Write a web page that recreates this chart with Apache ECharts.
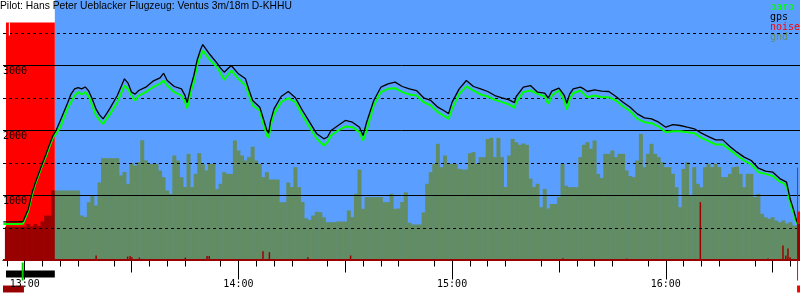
<!DOCTYPE html>
<html><head><meta charset="utf-8">
<script src="https://cdn.jsdelivr.net/npm/echarts@6/dist/echarts.min.js"></script>
<style>html,body{margin:0;padding:0;background:#fff}#c{width:800px;height:300px}</style>
</head><body><div id="c"></div>
<script>
// time values are minutes after 12:00
const titleText = 'Pilot: Hans Peter Ueblacker Flugzeug: Ventus 3m/18m D-KHHU';
const legendNames = ['baro', 'gps', 'noise', 'gnd'];
const hourTicks = [60, 120, 180, 240];
const hourLabels = ['13:00', '14:00', '15:00', '16:00'];
const halfHourTicks = [90, 150, 210, 270];
const fiveMinTicks = [55, 65, 70, 75, 85, 95, 100, 105, 115, 125, 130, 135, 145, 155, 160, 165,
  175, 185, 190, 195, 205, 215, 220, 225, 235, 245, 250, 255, 265, 275];
const yLabelValues = [1000, 2000, 3000];
const yLabels = ['1000', '2000', '3000'];
const solidLevels = [1000, 2000, 3000];
const dashedLevels = [500, 1500, 2500, 3500];

const baro = [
  [54,562],[58,562],[59.5,565],
  [61,760],[62,1000],[63,1180],[64,1330],[65,1480],[66,1610],[67,1760],[68,1897],[68.8,1950],
  [70,2051],[72,2333],[74,2538],[75,2590],[76,2554],[77,2590],[78,2523],[79,2380],[80,2231],[81,2160],[82,2102],[83,2180],[84,2256],[86,2436],[88,2692],[89,2640],[90,2538],[91,2460],[92,2538],[94,2590],[96,2666],[98,2718],[99,2770],[100,2692],[102,2590],[104,2538],[105,2440],[105.6,2340],[106.6,2590],[107.5,2743],[108.4,3000],[109.4,3150],[110,3230],
  [112,3087],[114,2974],[115,2880],[116,2779],[117,2850],[118,2923],[120,2795],[122,2692],[123,2540],[124,2385],[126,2308],[127,2100],[128,1923],[128.5,1890],[129,2060],[130,2256],[132,2436],[134,2497],[136,2436],[138,2231],[140,2051],[142,1872],[144,1769],[145,1820],[146,1923],[148,2000],[150,2061],[152,2051],[154,1974],[155,1846],[156,2000],[158,2385],[160,2590],[162,2641],[164,2651],[166,2590],
  [168,2554],[170,2538],[172,2436],[174,2385],[176,2282],[178,2215],[179,2179],[180,2333],[182,2564],[184,2677],[186,2615],[188,2554],[190,2523],[192,2472],[194,2436],[196,2400],[197.5,2348],[198,2436],[200,2590],[202,2615],[204,2564],[206,2523],[207,2410],[208,2538],[210,2615],[211.5,2450],[212.2,2318],[213,2480],[214,2574],[216,2615],[217,2560],[218,2513],[220,2538],[222,2513],
  [224,2513],[226,2462],[228,2369],[230,2297],[232,2179],[234,2128],[236,2113],[238,2061],[240,1974],[242,1990],[244,1990],[246,1974],[248,1959],[250,1887],[252,1836],[254,1785],[256,1785],[258,1702],[260,1615],[262,1538],[264,1477],[266,1359],[268,1333],[270,1300],[272,1210],[273,1190],[274,1140],[274.4,1026],[274.9,877],[275.8,744],[276.6,590],[276.9,564]
];
const gps = [
  [54,595],[58,595],[59.5,600],
  [61,790],[62,1030],[63,1200],[64,1350],[65,1500],[66,1640],[67,1790],[68,1930],[68.8,2000],
  [70,2154],[72,2420],[73,2560],[74,2641],[75,2660],[76,2641],[77,2670],[78,2605],[79,2480],[80,2333],[81,2240],[82,2179],[83,2260],[84,2348],[86,2538],[88,2795],[89,2730],[90,2590],[91,2560],[92,2615],[94,2666],[96,2759],[98,2810],[99,2882],[100,2769],[102,2677],[104,2641],[105,2540],[105.6,2430],[106.6,2670],[107.5,2850],[108.4,3080],[109.4,3250],[110,3323],
  [112,3169],[114,3036],[115,2960],[116,2897],[117,2950],[118,3000],[120,2872],[122,2795],[123,2620],[124,2462],[126,2359],[127,2180],[128,2000],[128.5,1960],[129,2140],[130,2333],[132,2523],[134,2600],[136,2503],[138,2308],[140,2128],[142,1949],[144,1872],[145,1900],[146,2000],[148,2077],[150,2154],[152,2128],[154,2051],[155,1923],[156,2128],[158,2462],[160,2666],[162,2718],[164,2744],[166,2677],
  [168,2641],[170,2615],[172,2503],[174,2462],[176,2359],[178,2297],[179,2260],[180,2436],[182,2641],[184,2769],[186,2677],[188,2641],[190,2600],[192,2538],[194,2503],[196,2472],[197.5,2430],[198,2523],[200,2666],[202,2692],[204,2590],[206,2574],[207,2500],[208,2605],[210,2651],[211.5,2540],[212.2,2420],[213,2560],[214,2641],[216,2666],[217,2640],[218,2600],[220,2625],[222,2605],
  [224,2600],[226,2523],[228,2436],[230,2359],[232,2256],[234,2195],[236,2179],[238,2128],[240,2051],[242,2092],[244,2077],[246,2051],[248,2026],[250,1959],[252,1907],[254,1856],[256,1856],[258,1754],[260,1667],[262,1590],[264,1538],[266,1420],[268,1374],[270,1360],[272,1260],[273.9,1205],[274.9,949],[275.8,795],[276.7,615],[276.9,590]
];
// ground elevation, one value per minute starting at 12:55
const gndStartMinute = 55;
const gnd = [
  520,520,520,520,520,520,560,525,560,530,600,692,692,1077,
  1077,1077,1077,1077,1077,1077,1077,692,670,897,1000,846,1200,1574,1574,1574,1574,1574,1308,1360,1180,1500,1461,1513,1850,1540,1487,1487,1487,1385,1282,1077,1026,1615,1538,1282,1130,1641,1130,1333,1651,1480,
  1385,1487,1487,1100,1180,1359,1333,1333,1846,1692,1615,1538,1590,1750,1538,1487,1282,1359,1246,1246,1246,897,897,1200,1130,1436,1128,900,650,625,692,750,743,666,590,590,590,600,600,600,770,666,1026,1400,795,975,975,975,975,975,897,897,1026,795,800,900,
  1050,580,554,554,554,740,1180,1359,1487,1795,1436,1615,1487,1487,1487,1410,1400,1400,1650,1667,1487,1590,1590,1870,1887,1590,1887,1590,1130,1615,1872,1820,1780,1800,1780,1260,1130,1180,820,1100,800,870,870,975,1487,1150,1128,1128,1128,1590,1780,1820,1720,1846,1333,1270,
  1641,1641,1692,1590,1641,1641,1385,1300,1282,1538,1948,1436,1641,1795,1641,1590,1513,1436,1436,1333,1128,820,1410,1513,1000,1436,1180,1128,1436,1487,1436,1487,1436,1282,1282,1333,1436,1446,1333,1128,1333,1333,974,1026,718,666,641,666,615,590,615,570,590,538,538
];
const noise = [
  [54.9,90],[80.05,77],[88.9,60],[89.6,70],[90.1,50],[92.2,45],[105.1,45],[111.2,70],[111.8,70],
  [126.9,143],[128.7,128],[139.5,50],[151.5,77],[211.1,35],[215.8,20],[229,30],[249.7,897],
  [268.7,30],[272.9,230],[273.7,77],[274.3,185],[274.9,50]
];
const noiseBaseline = 15;
// engine / noise period at start: [from, to] minutes
const enginePeriod = [54.74, 68.45];
const flightEnd = 277.7;

const C = {
  blue: '#5a9fff', red: '#ff0000', darkRed: '#990000', gnd: '#628c64',
  baro: '#00ff00', gps: '#000000', takeoff: '#00cc00', white: '#ffffff', black: '#000000'
};

const bgZones = [
  [enginePeriod[1], flightEnd, 0, 4010],
  [enginePeriod[0], enginePeriod[1], 0, 3662]
];
const bgColors = [C.blue, C.red];
const markers = [
  [enginePeriod[0], enginePeriod[1], -154, -262],
  [53.9, 59.78, -385, -492],
  [59.15, 59.7, -31, -308],
  [276.85, 277.1, 1431, -308],
  [276.9, 277.7, 754, 569],
  [276.9, 277.7, 569, 0],
  [276.85, 277.7, -385, -492],
  [55.55, 55.85, 3462, 3662]
];
const markerColors = [C.black, C.darkRed, C.takeoff, C.red, C.red, C.darkRed, C.red, C.white];

const MONO = 'DejaVu Sans Mono';
const xMin = 53.902, xMax = 277.68;

function rectRenderer(colors) {
  return function (params, api) {
    const p0 = api.coord([api.value(0), api.value(3)]);
    const p1 = api.coord([api.value(1), api.value(2)]);
    return {
      type: 'rect',
      shape: { x: p0[0], y: p0[1], width: Math.max(1, p1[0] - p0[0]), height: p1[1] - p0[1] },
      style: { fill: colors[params.dataIndex] }
    };
  };
}

const baseX = { type: 'value', min: xMin, max: xMax, position: 'bottom', splitLine: { show: false } };

const chart = echarts.init(document.getElementById('c'));
chart.setOption({
  animation: false,
  backgroundColor: '#ffffff',
  title: {
    text: titleText, left: 0, top: 1, padding: 0,
    textStyle: { fontFamily: 'Liberation Sans', fontSize: 10.3, fontWeight: 'normal', color: '#000' }
  },
  legend: {
    data: legendNames.map((n, i) => ({
      name: n,
      textStyle: { color: [C.baro, C.gps, C.red, C.gnd][i] }
    })),
    orient: 'vertical', left: 765, top: 2, padding: 0, itemGap: 0,
    itemWidth: 0, itemHeight: 10, icon: 'rect', selectedMode: false,
    textStyle: { fontFamily: MONO, fontSize: 10, lineHeight: 10 }
  },
  grid: { left: 0, right: 0, top: 0.5, bottom: 39.5 },
  xAxis: [
    Object.assign({}, baseX, {
      axisLine: { show: true, lineStyle: { color: '#000', width: 1 } },
      axisTick: { show: true, customValues: fiveMinTicks, length: 6, lineStyle: { color: '#000' } },
      axisLabel: { show: false }
    }),
    Object.assign({}, baseX, {
      axisLine: { show: false },
      axisTick: { show: true, customValues: halfHourTicks, length: 12, lineStyle: { color: '#000' } },
      axisLabel: { show: false }
    }),
    Object.assign({}, baseX, {
      z: 20,
      axisLine: { show: false },
      axisTick: { show: true, customValues: hourTicks, length: 19, lineStyle: { color: '#000' } },
      axisLabel: {
        show: true, customValues: hourTicks, margin: 19,
        formatter: v => hourLabels[hourTicks.indexOf(v)],
        fontFamily: MONO, fontSize: 10, color: '#000'
      }
    })
  ],
  yAxis: {
    type: 'value', min: 0, max: 4000, z: 20,
    axisLine: { show: false }, axisTick: { show: false }, splitLine: { show: false },
    axisLabel: {
      inside: true, margin: 0, customValues: yLabelValues,
      formatter: v => yLabels[yLabelValues.indexOf(v)],
      verticalAlign: 'top', padding: [1, 0, 0, 0],
      fontFamily: MONO, fontSize: 10, color: '#000'
    }
  },
  series: [
    {
      type: 'custom', name: 'zones', z: 1, silent: true,
      renderItem: rectRenderer(bgColors),
      encode: { x: [0, 1], y: [2, 3] },
      data: bgZones
    },
    {
      type: 'bar', name: 'gnd', z: 2, barWidth: 4, silent: true,
      itemStyle: { color: C.gnd },
      data: gnd.map((v, i) => {
        const t = gndStartMinute + i;
        const inEngine = t >= enginePeriod[0] && t < enginePeriod[1];
        return { value: [t, v], itemStyle: { color: inEngine ? C.darkRed : C.gnd } };
      }),
      markLine: {
        silent: true, symbol: ['none', 'none'], label: { show: false }, z: 3,
        data: solidLevels.map(v => ({ yAxis: v, lineStyle: { color: '#000', width: 1, type: 'solid' } }))
          .concat(dashedLevels.map(v => ({ yAxis: v, lineStyle: { color: '#000', width: 1, type: [3, 3] } })))
      }
    },
    {
      type: 'bar', name: 'noise', xAxisIndex: 1, z: 2, barWidth: 1.5, silent: true,
      itemStyle: { color: C.darkRed },
      data: noise,
      markLine: {
        silent: true, symbol: ['none', 'none'], label: { show: false }, z: 3,
        data: [{ yAxis: noiseBaseline, lineStyle: { color: C.darkRed, width: 2, type: 'solid' } }]
      }
    },
    {
      type: 'line', name: 'baro', z: 4, showSymbol: false, symbol: 'none', silent: true,
      lineStyle: { color: C.baro, width: 2 }, itemStyle: { color: C.baro },
      data: baro
    },
    {
      type: 'line', name: 'gps', z: 5, showSymbol: false, symbol: 'none', silent: true,
      lineStyle: { color: C.gps, width: 1.3 }, itemStyle: { color: C.gps },
      data: gps
    },
    {
      type: 'custom', name: 'markers', z: 6, clip: false, silent: true,
      renderItem: rectRenderer(markerColors),
      encode: { x: [0, 1], y: [2, 3] },
      data: markers
    }
  ]
});
</script></body></html>
